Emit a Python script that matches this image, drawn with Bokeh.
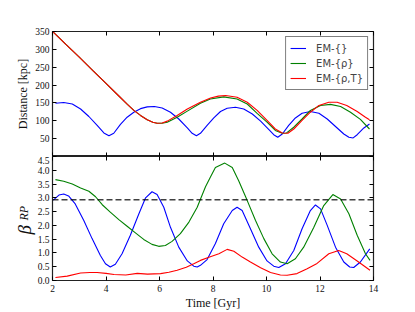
from bokeh.plotting import figure
from bokeh.models import (LinearAxis, FixedTicker, Range1d, Span, Legend, Title,
                          LegendItem, CustomJSTickFormatter, PrintfTickFormatter)
from bokeh.layouts import column
from bokeh.embed import file_html
from bokeh.resources import INLINE

# ---------------- data ----------------
time_ticks = [2, 4, 6, 8, 10, 12, 14]
dist_ticks = [50, 100, 150, 200, 250, 300, 350]
beta_ticks = [0.0, 0.5, 1.0, 1.5, 2.0, 2.5, 3.0, 3.5, 4.0, 4.5]

em0_dist_t = [2.11, 2.42, 2.74, 3.05, 3.36, 3.67, 3.92, 4.11, 4.29, 4.54, 4.79, 5.04, 5.29,
              5.54, 5.81, 6.10, 6.41, 6.72, 7.04, 7.22, 7.38, 7.53, 7.78, 8.03, 8.28, 8.53,
              8.84, 9.15, 9.47, 9.78, 10.09, 10.27, 10.42, 10.59, 10.83, 11.08, 11.33, 11.64,
              11.96, 12.27, 12.58, 12.89, 13.08, 13.24, 13.39, 13.64, 13.85]
em0_dist = [149, 151, 147, 133, 112, 87, 66, 58, 65, 90, 110, 124, 134,
            139, 140, 136, 124, 105, 80, 65, 58, 65, 87, 108, 126, 135,
            138, 133, 119, 99, 75, 61, 54, 63, 87, 108, 121, 126,
            121, 105, 84, 63, 54, 52, 61, 80, 91]

emrho_dist_t = [2.02, 2.5, 3.0, 3.5, 4.0, 4.5, 4.8, 5.04, 5.29, 5.54, 5.75, 5.91, 6.1, 6.29,
                6.66, 7.04, 7.53, 7.9, 8.4, 8.9, 9.28, 9.65, 10.02, 10.33, 10.59, 10.75,
                11.02, 11.33, 11.64, 12.02, 12.39, 12.77, 13.14, 13.51, 13.85]
emrho_dist = [349, 314, 278, 241, 205, 168, 146, 129, 115, 103, 96, 93, 93, 96,
              110, 127, 149, 161, 167, 161, 147, 121, 96, 73, 65, 66,
              82, 105, 129, 143, 146, 140, 124, 104, 77]

emrhoT_dist_t = [2.02, 2.5, 3.0, 3.5, 4.0, 4.5, 4.8, 5.04, 5.29, 5.54, 5.75, 5.91, 6.1, 6.29,
                 6.66, 7.04, 7.53, 7.91, 8.2, 8.47, 8.9, 9.28, 9.65, 10.02, 10.33, 10.59,
                 10.8, 11.02, 11.33, 11.64, 11.96, 12.33, 12.64, 13.0, 13.39, 13.7, 13.85]
emrhoT_dist = [349, 314, 278, 241, 205, 168, 146, 129, 115, 103, 96, 93, 94, 99,
               115, 133, 152, 164, 169, 171, 166, 152, 129, 101, 77, 66,
               65, 77, 101, 124, 143, 152, 152, 143, 126, 110, 103]

em0_beta_t = [2.03, 2.24, 2.42, 2.6, 2.85, 3.17, 3.48, 3.79, 3.98, 4.16, 4.35, 4.6, 4.91,
              5.23, 5.48, 5.72, 5.91, 6.16, 6.41, 6.72, 7.04, 7.28, 7.41, 7.53, 7.78, 8.09,
              8.4, 8.72, 8.9, 9.09, 9.4, 9.71, 10.02, 10.27, 10.46, 10.71, 11.02, 11.33,
              11.64, 11.83, 12.02, 12.27, 12.58, 12.89, 13.11, 13.26, 13.51, 13.86]
em0_beta = [2.92, 3.10, 3.14, 3.07, 2.78, 2.18, 1.52, 0.91, 0.61, 0.49, 0.59, 0.97, 1.64,
            2.42, 3.0, 3.22, 3.12, 2.66, 1.93, 1.21, 0.71, 0.52, 0.49, 0.55, 0.76, 1.34,
            2.06, 2.54, 2.66, 2.54, 1.88, 1.21, 0.71, 0.52, 0.47, 0.61, 1.09, 1.88,
            2.54, 2.74, 2.6, 2.0, 1.21, 0.67, 0.49, 0.47, 0.67, 1.15]

emrho_beta_t = [2.11, 2.42, 2.74, 3.05, 3.36, 3.61, 3.86, 4.16, 4.48, 4.79, 5.1, 5.41, 5.72,
                5.97, 6.22, 6.47, 6.78, 7.1, 7.41, 7.53, 7.72, 7.9, 8.09, 8.44, 8.72, 8.96,
                9.28, 9.59, 9.9, 10.21, 10.52, 10.77, 11.08, 11.39, 11.77, 12.14, 12.48,
                12.77, 13.08, 13.39, 13.7, 13.87]
emrho_beta = [3.66, 3.6, 3.5, 3.36, 3.24, 3.04, 2.75, 2.48, 2.21, 1.97, 1.73, 1.49, 1.31,
              1.24, 1.27, 1.42, 1.70, 2.12, 2.66, 2.95, 3.4, 3.75, 4.1, 4.26, 4.1, 3.62,
              2.9, 2.18, 1.52, 0.97, 0.67, 0.61, 0.79, 1.21, 1.93, 2.72, 3.12,
              2.96, 2.42, 1.64, 0.97, 0.73]

emrhoT_beta_t = [2.11, 2.55, 3.05, 3.4, 3.67, 4.0, 4.3, 4.74, 5.17, 5.55, 6.04, 6.35, 6.66,
                 7.0, 7.28, 7.53, 7.9, 8.22, 8.53, 8.78, 9.09, 9.4, 9.78, 10.15, 10.52,
                 10.77, 11.14, 11.52, 11.89, 12.33, 12.7, 13.0, 13.39, 13.87]
emrhoT_beta = [0.11, 0.16, 0.27, 0.29, 0.29, 0.26, 0.22, 0.2, 0.26, 0.23, 0.25, 0.3, 0.37,
               0.48, 0.61, 0.73, 0.86, 0.97, 1.13, 1.06, 0.85, 0.67, 0.46, 0.29, 0.2,
               0.19, 0.25, 0.43, 0.62, 0.97, 1.09, 0.97, 0.71, 0.37]

beta_threshold = 2.93

series_names = ["EM-{}", "EM-{ρ}", "EM-{ρ,T}"]
series_colors = ["#0000ff", "#008000", "#ff0000"]

# ---------------- style helpers ----------------
SERIF = "Liberation Serif"
TICK_FS = "9.5px"
LW = 1.1

def tick_axis(ax, ticks, show_labels, standoff=3, fmt=None):
    ax.ticker = FixedTicker(ticks=ticks, minor_ticks=[])
    ax.major_tick_in = 4
    ax.major_tick_out = 0
    ax.minor_tick_in = 0
    ax.minor_tick_out = 0
    ax.major_tick_line_color = "black"
    ax.major_tick_line_width = 1
    ax.axis_line_color = None
    if show_labels:
        ax.major_label_text_font = SERIF
        ax.major_label_text_font_size = TICK_FS
        ax.major_label_text_color = "#111111"
        ax.major_label_standoff = standoff
        if fmt is not None:
            ax.formatter = fmt
    else:
        ax.formatter = CustomJSTickFormatter(code="return ''")
        ax.major_label_standoff = 0
        ax.major_label_text_font_size = "1px"

def axis_title(ax, text, standoff):
    ax.axis_label = text
    ax.axis_label_text_font = SERIF
    ax.axis_label_text_font_style = "normal"
    ax.axis_label_text_font_size = "12px"
    ax.axis_label_text_color = "#111111"
    ax.axis_label_standoff = standoff

x_range = Range1d(2, 14)

def make_fig(height, y_range, top_border, bottom_border):
    p = figure(width=415, height=height, x_range=x_range, y_range=y_range,
               output_backend="svg", toolbar_location=None,
               min_border_left=52, min_border_right=42,
               min_border_top=top_border, min_border_bottom=bottom_border,
               background_fill_color="white", border_fill_color="white")
    p.xgrid.visible = False
    p.ygrid.visible = False
    p.outline_line_color = "#222222"
    p.outline_line_width = 1.2
    return p

# ---------------- top panel ----------------
p1 = make_fig(156, Range1d(0, 350), 31, 0)
tick_axis(p1.xaxis[0], time_ticks, False)
tick_axis(p1.yaxis[0], dist_ticks, True, standoff=3)
axis_title(p1.yaxis[0], "Distance [kpc]", 2)
ax = LinearAxis(); tick_axis(ax, time_ticks, False); p1.add_layout(ax, "above")
ax = LinearAxis(); tick_axis(ax, dist_ticks, False); p1.add_layout(ax, "right")

r0 = p1.line(em0_dist_t, em0_dist, line_color=series_colors[0], line_width=LW)
r1 = p1.line(emrho_dist_t, emrho_dist, line_color=series_colors[1], line_width=LW)
r2 = p1.line(emrhoT_dist_t, emrhoT_dist, line_color=series_colors[2], line_width=LW)

legend = Legend(items=[LegendItem(label=series_names[0], renderers=[r0]),
                       LegendItem(label=series_names[1], renderers=[r1]),
                       LegendItem(label=series_names[2], renderers=[r2])],
                location="top_right", margin=5, padding=4, spacing=1,
                label_height=14, glyph_height=14, glyph_width=16, label_standoff=10,
                label_text_font="DejaVu Sans", label_text_font_size="10px",
                border_line_color="black", border_line_width=1,
                background_fill_color="white", background_fill_alpha=1.0)
p1.add_layout(legend)

# ---------------- bottom panel ----------------
p2 = make_fig(156, Range1d(0, 4.5), 0, 32)
tick_axis(p2.xaxis[0], time_ticks, True, standoff=4)
axis_title(p2.xaxis[0], "Time [Gyr]", 1)
tick_axis(p2.yaxis[0], beta_ticks, True, standoff=3, fmt=PrintfTickFormatter(format="%.1f"))
ax = LinearAxis(); tick_axis(ax, time_ticks, False); p2.add_layout(ax, "above")
ax = LinearAxis(); tick_axis(ax, beta_ticks, False); p2.add_layout(ax, "right")

# y label  beta_RP : the subscript title sits nearer the frame than the beta
p2.add_layout(Title(text="RP", text_font=SERIF, text_font_style="italic",
                    text_font_size="12px", text_color="#111111", align="left",
                    vertical_align="bottom", offset=60, standoff=8), "left")
p2.add_layout(Title(text="β", text_font=SERIF, text_font_style="italic",
                    text_font_size="19px", text_color="#111111", align="left",
                    vertical_align="bottom", offset=46, standoff=-48), "left")

p2.add_layout(Span(location=beta_threshold, dimension="width", line_color="black",
                   line_alpha=0.75, line_width=1.4, line_dash="6 3"))

p2.line(em0_beta_t, em0_beta, line_color=series_colors[0], line_width=LW)
p2.line(emrho_beta_t, emrho_beta, line_color=series_colors[1], line_width=LW)
p2.line(emrhoT_beta_t, emrhoT_beta, line_color=series_colors[2], line_width=LW)

layout = column(p1, p2, spacing=0)
open("out.html", "w").write(file_html(layout, INLINE))
